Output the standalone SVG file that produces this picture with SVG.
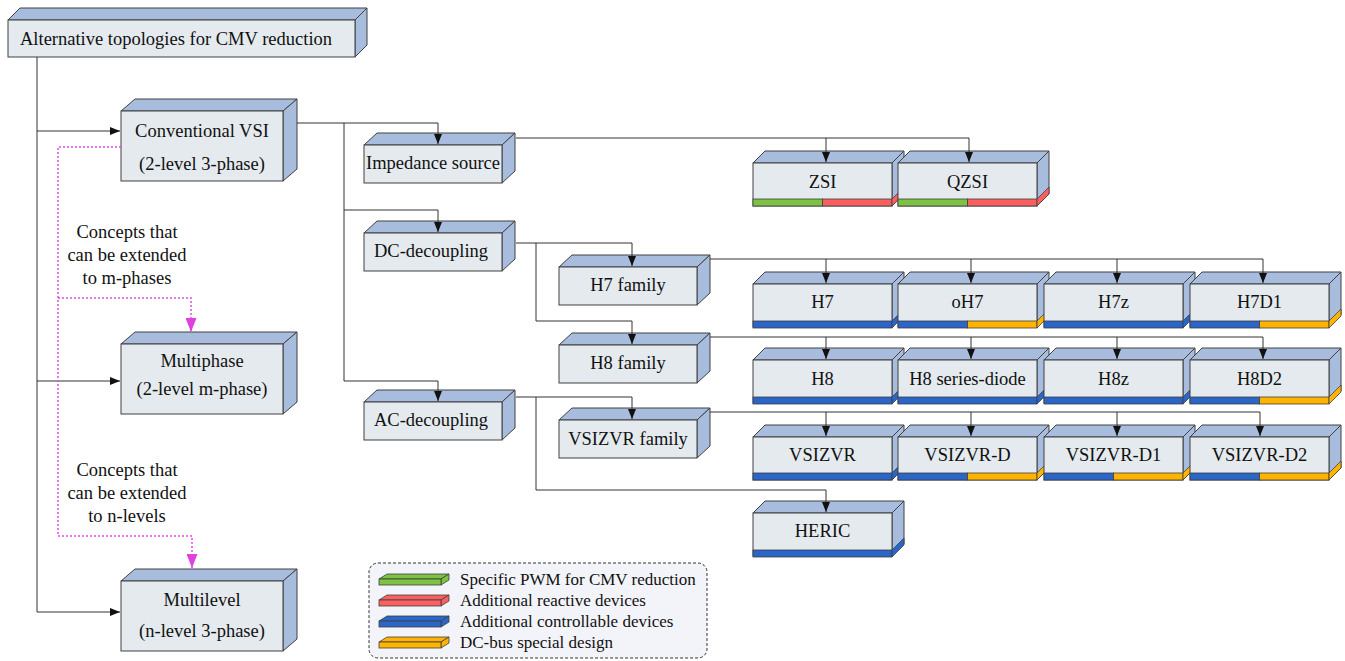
<svg xmlns="http://www.w3.org/2000/svg" xmlns:xlink="http://www.w3.org/1999/xlink" width="1345" height="661" viewBox="0 0 1345 661">
<style>
.fr{fill:#e4eaee;stroke:#404040;stroke-width:1}
.sd{fill:#a8bcdd;stroke:#404040;stroke-width:1}
.t{font-family:"Liberation Serif","Times New Roman",serif;font-size:18.5px;fill:#111;text-anchor:middle}
.tl{font-family:"Liberation Serif","Times New Roman",serif;font-size:17px;fill:#111}
.g{fill:#7dc242;stroke:#404040;stroke-width:0.8}
.r{fill:#fb5f5f;stroke:#404040;stroke-width:0.8}
.b{fill:#2a65c8;stroke:#404040;stroke-width:0.8}
.o{fill:#ffb400;stroke:#404040;stroke-width:0.8}
.ln{fill:none;stroke:#333;stroke-width:1}
.pk{fill:none;stroke:#e04ce0;stroke-width:1.5;stroke-dasharray:2 2}
</style>
<defs>
<marker id="a" markerUnits="userSpaceOnUse" markerWidth="10" markerHeight="8" refX="10" refY="4" orient="auto" viewBox="0 0 10 8">
<path d="M0,0 L10,4 L0,8 z" fill="#111"/>
</marker>
<marker id="ap" markerUnits="userSpaceOnUse" markerWidth="14" markerHeight="11" refX="14" refY="5.5" orient="auto" viewBox="0 0 14 11">
<path d="M0,0 L14,5.5 L0,11 z" fill="#e040e0"/>
</marker>
<g id="sbox">
<polygon class="sd" points="0,0 12,-12 151,-12 139,0"/>
<polygon class="sd" points="139,0 151,-12 151,31 139,43"/>
<rect class="fr" x="0" y="0" width="139" height="43"/>
</g>
<g id="mbox">
<polygon class="sd" points="0,0 13,-12 151,-12 138,0"/>
<polygon class="sd" points="138,0 151,-12 151,26 138,38"/>
<rect class="fr" x="0" y="0" width="138" height="38"/>
</g>
<g id="bbox">
<polygon class="sd" points="0,0 14,-12 176,-12 162,0"/>
<polygon class="sd" points="162,0 176,-12 176,58 162,70"/>
<rect class="fr" x="0" y="0" width="162" height="70"/>
</g>
</defs>

<g id="n-root">
<polygon class="sd" points="8,20 20,8 367,8 355,20"/>
<polygon class="sd" points="355,20 367,8 367,45 355,57"/>
<rect class="fr" x="8" y="20" width="347" height="37"/>
<text class="t" x="20" y="45" style="text-anchor:start">Alternative topologies for CMV reduction</text>
</g>

<g id="n-vsi" transform="translate(121,111)">
<use xlink:href="#bbox"/>
<text class="t" x="81" y="26">Conventional VSI</text>
<text class="t" x="81" y="59">(2-level 3-phase)</text>
</g>
<g id="n-multiphase" transform="translate(121,344)">
<use xlink:href="#bbox"/>
<text class="t" x="81" y="23">Multiphase</text>
<text class="t" x="81" y="51">(2-level m-phase)</text>
</g>
<g id="n-multilevel" transform="translate(121,581)">
<use xlink:href="#bbox"/>
<text class="t" x="81" y="25">Multilevel</text>
<text class="t" x="81" y="56">(n-level 3-phase)</text>
</g>

<g id="note-m">
<text class="t" x="127" y="238">Concepts that</text>
<text class="t" x="127" y="261">can be extended</text>
<text class="t" x="127" y="284">to m-phases</text>
</g>
<g id="note-n">
<text class="t" x="127" y="476">Concepts that</text>
<text class="t" x="127" y="499">can be extended</text>
<text class="t" x="127" y="522">to n-levels</text>
</g>

<g id="n-impedance" transform="translate(364,145)">
<use xlink:href="#mbox"/>
<text class="t" x="69" y="24">Impedance source</text>
</g>
<g id="n-dc" transform="translate(364,233)">
<use xlink:href="#mbox"/>
<text class="t" x="67" y="24">DC-decoupling</text>
</g>
<g id="n-ac" transform="translate(364,402)">
<use xlink:href="#mbox"/>
<text class="t" x="67" y="24">AC-decoupling</text>
</g>
<g id="n-h7fam" transform="translate(559,267)">
<use xlink:href="#mbox"/>
<text class="t" x="69" y="24">H7 family</text>
</g>
<g id="n-h8fam" transform="translate(559,345)">
<use xlink:href="#mbox"/>
<text class="t" x="69" y="24">H8 family</text>
</g>
<g id="n-vsizvrfam" transform="translate(559,420)">
<use xlink:href="#mbox"/>
<text class="t" x="69" y="25">VSIZVR family</text>
</g>

<g id="n-zsi" transform="translate(753,163)">
<use xlink:href="#sbox"/>
<rect class="g" x="0" y="36" width="69.5" height="7"/><rect class="r" x="69.5" y="36" width="69.5" height="7"/>
<polygon class="r" points="139,36 151,24 151,31 139,43"/>
<text class="t" x="69.5" y="25">ZSI</text>
</g>
<g id="n-qzsi" transform="translate(898,163)">
<use xlink:href="#sbox"/>
<rect class="g" x="0" y="36" width="69.5" height="7"/><rect class="r" x="69.5" y="36" width="69.5" height="7"/>
<polygon class="r" points="139,36 151,24 151,31 139,43"/>
<text class="t" x="69.5" y="25">QZSI</text>
</g>

<g id="n-h7" transform="translate(753,284)">
<use xlink:href="#sbox"/>
<rect class="b" x="0" y="37" width="139" height="7"/>
<polygon class="b" points="139,37 151,25 151,32 139,44"/>
<text class="t" x="69.5" y="24">H7</text>
</g>
<g id="n-oh7" transform="translate(898,284)">
<use xlink:href="#sbox"/>
<rect class="b" x="0" y="37" width="69.5" height="7"/><rect class="o" x="69.5" y="37" width="69.5" height="7"/>
<polygon class="o" points="139,37 151,25 151,32 139,44"/>
<text class="t" x="69.5" y="24">oH7</text>
</g>
<g id="n-h7z" transform="translate(1044,284)">
<use xlink:href="#sbox"/>
<rect class="b" x="0" y="37" width="139" height="7"/>
<polygon class="b" points="139,37 151,25 151,32 139,44"/>
<text class="t" x="69.5" y="24">H7z</text>
</g>
<g id="n-h7d1" transform="translate(1190,284)">
<use xlink:href="#sbox"/>
<rect class="b" x="0" y="37" width="69.5" height="7"/><rect class="o" x="69.5" y="37" width="69.5" height="7"/>
<polygon class="o" points="139,37 151,25 151,32 139,44"/>
<text class="t" x="69.5" y="24">H7D1</text>
</g>

<g id="n-h8" transform="translate(753,360)">
<use xlink:href="#sbox"/>
<rect class="b" x="0" y="37" width="139" height="7"/>
<polygon class="b" points="139,37 151,25 151,32 139,44"/>
<text class="t" x="69.5" y="25">H8</text>
</g>
<g id="n-h8sd" transform="translate(898,360)">
<use xlink:href="#sbox"/>
<rect class="b" x="0" y="37" width="139" height="7"/>
<polygon class="b" points="139,37 151,25 151,32 139,44"/>
<text class="t" x="69.5" y="25">H8 series-diode</text>
</g>
<g id="n-h8z" transform="translate(1044,360)">
<use xlink:href="#sbox"/>
<rect class="b" x="0" y="37" width="139" height="7"/>
<polygon class="b" points="139,37 151,25 151,32 139,44"/>
<text class="t" x="69.5" y="25">H8z</text>
</g>
<g id="n-h8d2" transform="translate(1190,360)">
<use xlink:href="#sbox"/>
<rect class="b" x="0" y="37" width="69.5" height="7"/><rect class="o" x="69.5" y="37" width="69.5" height="7"/>
<polygon class="o" points="139,37 151,25 151,32 139,44"/>
<text class="t" x="69.5" y="25">H8D2</text>
</g>

<g id="n-vsizvr" transform="translate(753,437)">
<use xlink:href="#sbox"/>
<rect class="b" x="0" y="36" width="139" height="7"/>
<polygon class="b" points="139,36 151,24 151,31 139,43"/>
<text class="t" x="69.5" y="24">VSIZVR</text>
</g>
<g id="n-vsizvrd" transform="translate(898,437)">
<use xlink:href="#sbox"/>
<rect class="b" x="0" y="36" width="69.5" height="7"/><rect class="o" x="69.5" y="36" width="69.5" height="7"/>
<polygon class="o" points="139,36 151,24 151,31 139,43"/>
<text class="t" x="69.5" y="24">VSIZVR-D</text>
</g>
<g id="n-vsizvrd1" transform="translate(1044,437)">
<use xlink:href="#sbox"/>
<rect class="b" x="0" y="36" width="69.5" height="7"/><rect class="o" x="69.5" y="36" width="69.5" height="7"/>
<polygon class="o" points="139,36 151,24 151,31 139,43"/>
<text class="t" x="69.5" y="24">VSIZVR-D1</text>
</g>
<g id="n-vsizvrd2" transform="translate(1190,437)">
<use xlink:href="#sbox"/>
<rect class="b" x="0" y="36" width="69.5" height="7"/><rect class="o" x="69.5" y="36" width="69.5" height="7"/>
<polygon class="o" points="139,36 151,24 151,31 139,43"/>
<text class="t" x="69.5" y="24">VSIZVR-D2</text>
</g>

<g id="n-heric" transform="translate(753,513)">
<use xlink:href="#sbox"/>
<rect class="b" x="0" y="37" width="139" height="7"/>
<polygon class="b" points="139,37 151,25 151,32 139,44"/>
<text class="t" x="69.5" y="24">HERIC</text>
</g>

<g id="connectors">
<path class="ln" d="M37,57 V612"/>
<path class="ln" d="M37,131 H120" marker-end="url(#a)"/>
<path class="ln" d="M37,381 H120" marker-end="url(#a)"/>
<path class="ln" d="M37,612 H120" marker-end="url(#a)"/>
<path class="ln" d="M297,123 H438 V144" marker-end="url(#a)"/>
<path class="ln" d="M344,123 V381"/>
<path class="ln" d="M344,210 H438 V232" marker-end="url(#a)"/>
<path class="ln" d="M344,381 H438 V401" marker-end="url(#a)"/>
<path class="ln" d="M516,138 H969"/>
<path class="ln" d="M826,138 V162" marker-end="url(#a)"/>
<path class="ln" d="M969,138 V162" marker-end="url(#a)"/>
<path class="ln" d="M516,243 H632 V266" marker-end="url(#a)"/>
<path class="ln" d="M536,243 V321 H632 V344" marker-end="url(#a)"/>
<path class="ln" d="M516,397 H632 V419" marker-end="url(#a)"/>
<path class="ln" d="M536,397 V490 H826 V512" marker-end="url(#a)"/>
<path class="ln" d="M710,259 H1263"/>
<path class="ln" d="M826,259 V283" marker-end="url(#a)"/>
<path class="ln" d="M971,259 V283" marker-end="url(#a)"/>
<path class="ln" d="M1117,259 V283" marker-end="url(#a)"/>
<path class="ln" d="M1263,259 V283" marker-end="url(#a)"/>
<path class="ln" d="M710,337 H1263"/>
<path class="ln" d="M826,337 V359" marker-end="url(#a)"/>
<path class="ln" d="M971,337 V359" marker-end="url(#a)"/>
<path class="ln" d="M1117,337 V359" marker-end="url(#a)"/>
<path class="ln" d="M1263,337 V359" marker-end="url(#a)"/>
<path class="ln" d="M710,412 H1260"/>
<path class="ln" d="M826,412 V436" marker-end="url(#a)"/>
<path class="ln" d="M971,412 V436" marker-end="url(#a)"/>
<path class="ln" d="M1117,412 V436" marker-end="url(#a)"/>
<path class="ln" d="M1260,412 V436" marker-end="url(#a)"/>
<path class="pk" d="M121,147 H58 V536 H192 V568" marker-end="url(#ap)"/>
<path class="pk" d="M58,298 H191 V332" marker-end="url(#ap)"/>
</g>

<g id="legend">
<rect x="369" y="563" width="338" height="95" rx="9" fill="#f3f4f9" stroke="#333" stroke-width="1" stroke-dasharray="3 2"/>
<g>
<polygon class="g" points="379,579 387,574 449,574 441,579"/>
<polygon class="g" points="441,579 449,574 449,580 441,585"/>
<rect class="g" x="379" y="579" width="62" height="6"/>
<text class="tl" x="460" y="585">Specific PWM for CMV reduction</text>
</g>
<g>
<polygon class="r" points="379,600 387,595 449,595 441,600"/>
<polygon class="r" points="441,600 449,595 449,601 441,606"/>
<rect class="r" x="379" y="600" width="62" height="6"/>
<text class="tl" x="460" y="606">Additional reactive devices</text>
</g>
<g>
<polygon class="b" points="379,621 387,616 449,616 441,621"/>
<polygon class="b" points="441,621 449,616 449,622 441,627"/>
<rect class="b" x="379" y="621" width="62" height="6"/>
<text class="tl" x="460" y="627">Additional controllable devices</text>
</g>
<g>
<polygon class="o" points="379,642 387,637 449,637 441,642"/>
<polygon class="o" points="441,642 449,637 449,643 441,648"/>
<rect class="o" x="379" y="642" width="62" height="6"/>
<text class="tl" x="460" y="648">DC-bus special design</text>
</g>
</g>
</svg>
